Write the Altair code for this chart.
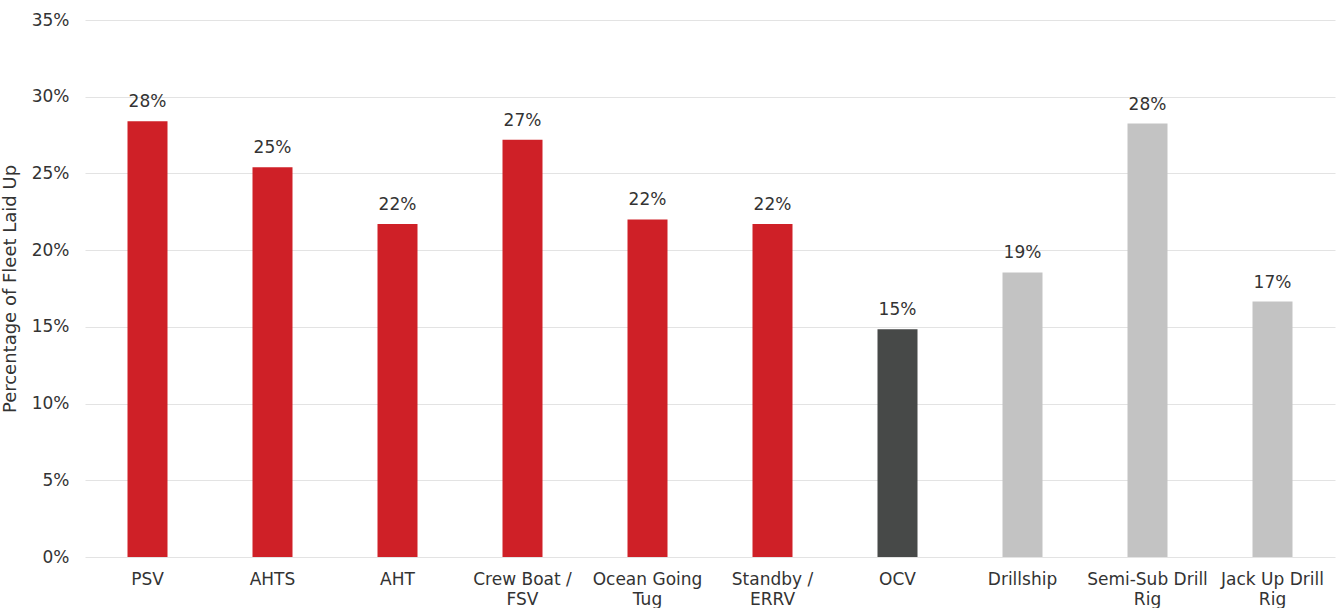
import altair as alt
import pandas as pd

categories = ["PSV", "AHTS", "AHT", "Crew Boat /\nFSV", "Ocean Going\nTug", "Standby /\nERRV",
              "OCV", "Drillship", "Semi-Sub Drill\nRig", "Jack Up Drill\nRig"]
values = [28.4, 25.4, 21.7, 27.2, 22.0, 21.7, 14.85, 18.55, 28.25, 16.65]
groups = ["vessel"] * 6 + ["ocv"] + ["rig"] * 3

df = pd.DataFrame({"cat": categories, "val": [v / 100 for v in values], "grp": groups})

FONT = "DejaVu Sans"
TXT = "#333333"

x = alt.X("cat:N", sort=categories, title=None,
          scale=alt.Scale(paddingInner=0, paddingOuter=0),
          axis=alt.Axis(labelAngle=0, labelExpr="split(datum.label, '\\n')",
                        labelFont=FONT, labelFontSize=17, labelColor=TXT,
                        labelPadding=14, labelLineHeight=20, ticks=False, domain=False,
                        grid=False, labelBaseline="top"))
y = alt.Y("val:Q", title="Percentage of Fleet Laid Up",
          scale=alt.Scale(domain=[0, 0.35], nice=False),
          axis=alt.Axis(format=".0%", values=[0, 0.05, 0.1, 0.15, 0.2, 0.25, 0.3, 0.35],
                        labelFont=FONT, labelFontSize=17, labelColor=TXT, labelPadding=16,
                        titleFont=FONT, titleFontSize=18, titleColor=TXT, titleFontWeight="normal",
                        titlePadding=12,
                        ticks=False, domain=False, gridColor="#e3e3e3", gridWidth=1))

bars = alt.Chart(df).mark_bar(size=40).encode(
    x=x, y=y,
    color=alt.Color("grp:N", legend=None,
                    scale=alt.Scale(domain=["vessel", "ocv", "rig"],
                                    range=["#CF2027", "#474948", "#C3C3C3"])))

labels = alt.Chart(df).mark_text(dy=-10, baseline="bottom", font=FONT, fontSize=17, color=TXT).encode(
    x=alt.X("cat:N", sort=categories), y="val:Q",
    text=alt.Text("val:Q", format=".0%"))

chart = (bars + labels).properties(
    width=1250, height=537,
    background="white",
    padding={"left": 85, "top": 20, "right": 3, "bottom": 51},
    autosize=alt.AutoSizeParams(type="none"),
).configure_view(strokeWidth=0, stroke=None)

chart.save("out.html", embed_options={"renderer": "svg", "actions": False})
